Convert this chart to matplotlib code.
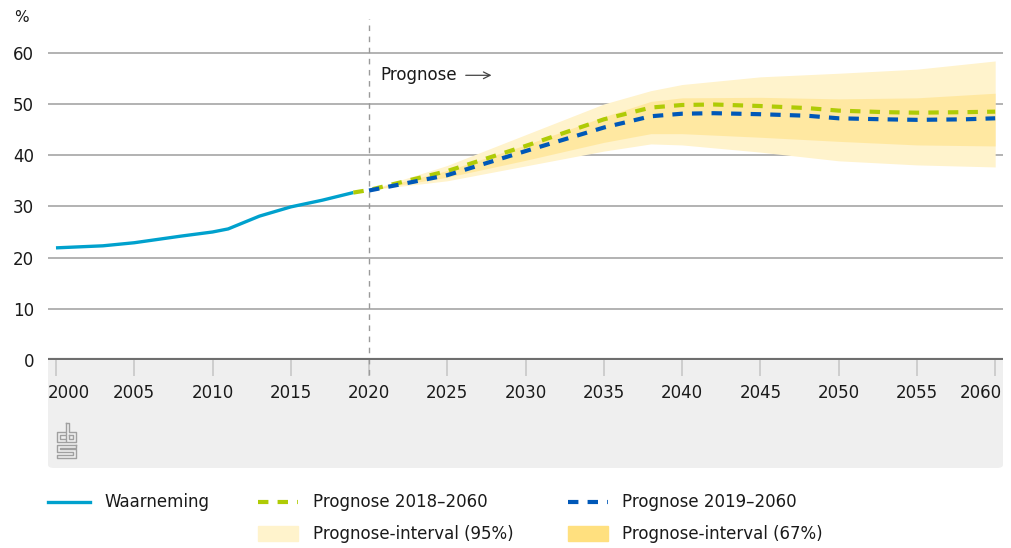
import matplotlib
matplotlib.use("Agg")
from matplotlib import pyplot as plt
from matplotlib.patches import FancyBboxPatch, Rectangle
from matplotlib.lines import Line2D

plt.rcParams['font.family'] = ['DejaVu Sans']

# --- data ---
obs_years = [2000, 2003, 2005, 2008, 2010, 2011, 2013, 2015, 2017, 2019]
obs_vals = [21.9, 22.3, 22.9, 24.2, 25.0, 25.6, 28.1, 29.9, 31.2, 32.7]

p18_years = [2019, 2020, 2025, 2030, 2035, 2038, 2040, 2042, 2045, 2048, 2050, 2053, 2055, 2058, 2060]
p18_vals = [32.7, 33.2, 36.9, 41.8, 47.0, 49.3, 49.8, 49.9, 49.6, 49.2, 48.7, 48.4, 48.3, 48.4, 48.5]

p19_years = [2020, 2025, 2030, 2035, 2038, 2040, 2042, 2045, 2048, 2050, 2053, 2055, 2058, 2060]
p19_vals = [33.1, 36.1, 40.8, 45.4, 47.6, 48.1, 48.2, 48.0, 47.7, 47.2, 47.0, 46.9, 47.0, 47.2]

band_years = [2020, 2025, 2030, 2035, 2038, 2040, 2045, 2050, 2055, 2060]
p95_hi = [33.2, 38.0, 44.0, 50.0, 52.6, 53.8, 55.3, 56.0, 56.8, 58.4]
p95_lo = [33.2, 35.0, 37.9, 40.8, 42.2, 42.0, 40.6, 38.9, 38.1, 37.7]
p67_hi = [33.2, 37.0, 42.0, 47.5, 50.5, 51.2, 51.3, 51.0, 51.2, 52.1]
p67_lo = [33.2, 35.7, 39.0, 42.5, 44.2, 44.2, 43.5, 42.7, 42.0, 41.8]

x_ticks = list(range(2000, 2061, 5))
y_ticks = [0, 10, 20, 30, 40, 50, 60]

c_obs = '#00a1cd'
c_p18 = '#afcb05'
c_p19 = '#0058b8'
c_95 = '#fff3cc'
c_67 = '#ffe07f'
txt = '#1a1a1a'
dash = (0, (2.5, 2.2))

W, H = 1011, 548
fig = plt.figure(figsize=(W / 100, H / 100), dpi=100)
ax = fig.add_axes([48 / W, 1 - 360 / H, (1003 - 48) / W, (360 - 20) / H])


def fx(v):
    return v / W


def fy(v):
    return 1 - v / H


# grey footer band with rounded bottom
band = FancyBboxPatch((fx(48), fy(468)), fx(1003 - 48), (468 - 340) / H,
                      boxstyle="round,pad=0,rounding_size=0.006",
                      transform=fig.transFigure, facecolor='#efefef',
                      edgecolor='none', zorder=-5)
fig.patches.append(band)

ax.fill_between(band_years, p95_lo, p95_hi, color=c_95, lw=0, zorder=1)
ax.fill_between(band_years, p67_lo, p67_hi, color=c_67, alpha=0.55, lw=0, zorder=2)

for y in y_ticks[1:]:
    ax.axhline(y, color='#a6a6a6', lw=1.2, zorder=0.5)

ax.plot(obs_years, obs_vals, color=c_obs, lw=2.4, zorder=4, solid_capstyle='butt')
ax.plot(p18_years, p18_vals, color=c_p18, lw=3, zorder=5, linestyle=dash)
ax.plot(p19_years, p19_vals, color=c_p19, lw=3, zorder=6, linestyle=dash)

ax.plot([2020, 2020], [-3, 66.6], color='#9a9a9a', lw=1, linestyle=(0, (4, 4)),
        zorder=3, clip_on=False)
ax.axhline(0, color='#6e6e6e', lw=3, zorder=7)

ax.text(2020.75, 55.6, 'Prognose', fontsize=12, color=txt, va='center', ha='left')
ax.annotate('', xy=(2028.0, 55.6), xytext=(2026.0, 55.6),
            arrowprops=dict(arrowstyle='->', color='#444444', lw=0.9,
                            mutation_scale=12))

ax.set_xlim(1999.49, 2060.5)
ax.set_ylim(0, 66.4)
ax.set_xticks(x_ticks)
ax.set_xticklabels([])
ax.set_yticks(y_ticks)
ax.tick_params(axis='x', length=11.5, width=1.2, color='#c8c8c8')
ax.tick_params(axis='y', length=0, pad=10, labelsize=12, labelcolor=txt)
for s in ax.spines.values():
    s.set_visible(False)

# x tick labels: first/last kept inside the grey band
xt = ax.get_xaxis_transform()
for i, yr in enumerate(x_ticks):
    ha = 'center'
    if i == 0:
        ha = 'left'
    elif i == len(x_ticks) - 1:
        ha = 'right'
    xpos = yr - 0.5 if i == 0 else (yr + 0.45 if i == len(x_ticks) - 1 else yr)
    ax.text(xpos, -0.097, str(yr), transform=xt, ha=ha, va='center',
            fontsize=12, color=txt)

fig.text(fx(14), fy(18), '%', fontsize=11, color=txt, va='center', ha='left')

# cbs logo (outline)
lc = '#a0a0a0'
logo = [
    [(65, 432), (57, 432), (57, 442), (65, 442)],
    [(65, 435), (60, 435), (60, 439), (65, 439)],
    [(66, 423), (66, 442), (76, 442), (76, 432), (69, 432), (69, 423), (66, 423)],
    [(69, 435), (73, 435), (73, 439), (69, 439), (69, 435)],
    [(76, 445), (57, 445), (57, 452), (73, 452), (73, 455), (57, 455), (57, 458),
     (76, 458), (76, 449), (60, 449), (60, 448), (76, 448), (76, 445)],
]
for pts in logo:
    fig.add_artist(Line2D([fx(p[0]) for p in pts], [fy(p[1]) for p in pts],
                          color=lc, lw=1.0))

# legend
fig.add_artist(Line2D([fx(48), fx(90)], [fy(502), fy(502)], color=c_obs, lw=2.4))
fig.add_artist(Line2D([fx(258), fx(298)], [fy(502), fy(502)], color=c_p18, lw=3,
                      linestyle=dash))
fig.add_artist(Line2D([fx(568), fx(608)], [fy(502), fy(502)], color=c_p19, lw=3,
                      linestyle=dash))
fig.add_artist(Rectangle((fx(258), fy(541)), fx(40), 15 / H, color=c_95,
                         transform=fig.transFigure))
fig.add_artist(Rectangle((fx(568), fy(541)), fx(40), 15 / H, color=c_67,
                         transform=fig.transFigure))
for x, y, s in [(104, 502, 'Waarneming'), (313, 502, 'Prognose 2018–2060'),
                (622, 502, 'Prognose 2019–2060'), (313, 534, 'Prognose-interval (95%)'),
                (622, 534, 'Prognose-interval (67%)')]:
    fig.text(fx(x), fy(y), s, fontsize=12, color=txt, va='center', ha='left')

fig.savefig('out.png', dpi=100)
